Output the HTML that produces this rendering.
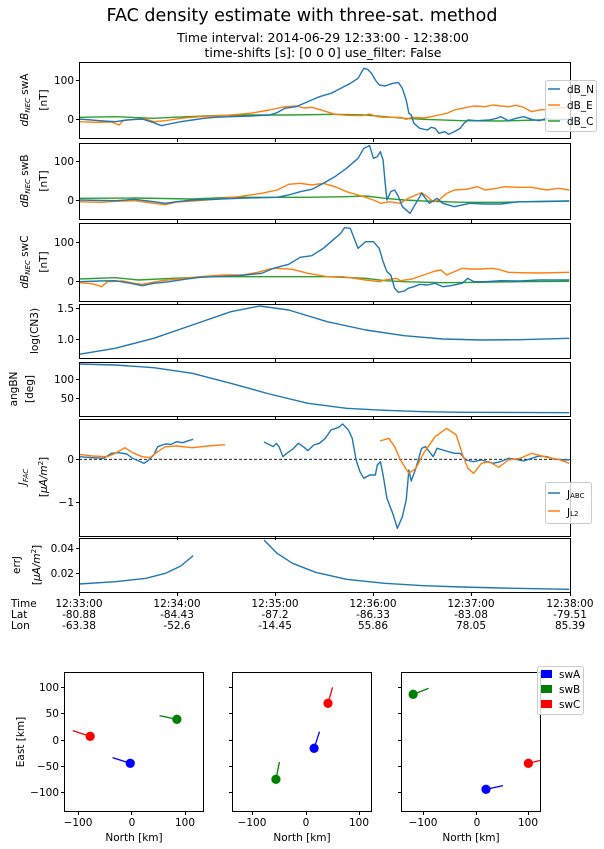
<!DOCTYPE html>
<html><head><meta charset="utf-8"><style>
body{margin:0;background:#fff}
svg{display:block;font-family:"DejaVu Sans","Liberation Sans",sans-serif}
.t{font-size:10.5px;fill:#000}
.ln{fill:none;stroke-width:1.4;vector-effect:non-scaling-stroke;stroke-linejoin:round}
.b{stroke:#1f77b4}.o{stroke:#ff7f0e}.g{stroke:#2ca02c}
.ax{fill:none;stroke:#000;stroke-width:1}
</style></head><body>
<svg width="604" height="849" viewBox="0 0 604 849" xmlns="http://www.w3.org/2000/svg">
<text x="302" y="21" text-anchor="middle" font-size="17.5">FAC density estimate with three-sat. method</text>
<text x="323" y="42" text-anchor="middle" font-size="12.5">Time interval: 2014-06-29  12:33:00 - 12:38:00</text>
<text x="323" y="57" text-anchor="middle" font-size="12.5">time-shifts [s]: [0 0 0]   use_filter: False</text>

<!-- panels -->
<g transform="translate(-0.39,0) scale(0.3854,0.33333)">
<polyline class="ln g" points="206,352 300,350 400,355 450,352 550,347 650,345 750,345 870,343 950,345 1000,350 1050,355 1100,358 1200,362 1300,363 1400,360 1478,358"/>
<polyline class="ln o" points="206,365 250,367 290,366 310,375 320,362 350,358 380,357 400,365 430,362 470,355 520,350 560,348 600,345 650,340 700,330 740,320 770,318 790,324 810,322 840,332 870,343 900,346 940,347 960,342 980,350 1000,352 1040,352 1055,358 1070,352 1100,354 1120,350 1140,345 1160,340 1180,330 1200,325 1230,318 1260,320 1280,315 1300,318 1320,320 1340,316 1360,322 1380,335 1400,330 1420,328 1440,325 1478,322"/>
<polyline class="ln b" points="206,357 260,362 300,365 330,360 370,357 400,368 420,377 440,372 470,365 500,360 530,355 560,352 600,350 650,348 700,345 720,338 740,325 770,320 800,305 830,290 860,280 890,262 910,250 930,235 945,205 955,208 965,220 975,240 985,255 1000,258 1020,250 1035,248 1045,265 1055,300 1062,340 1068,345 1075,370 1090,385 1110,390 1120,382 1130,385 1140,400 1155,395 1165,403 1180,395 1195,385 1205,370 1215,360 1240,362 1270,360 1290,355 1300,350 1320,362 1340,355 1360,350 1380,358 1400,362 1420,355 1440,360 1478,357"/>

<polyline class="ln g" points="206,595 350,594 500,597 600,592 700,592 800,592 900,590 950,588 1000,595 1050,600 1100,603 1200,607 1300,607 1400,604 1478,603"/>
<polyline class="ln o" points="206,605 260,607 300,604 350,602 400,610 430,614 460,606 500,603 560,598 620,590 680,580 720,570 750,553 780,550 810,555 840,550 870,560 900,575 930,585 945,590 970,600 990,610 1010,605 1040,610 1060,595 1080,585 1095,578 1110,590 1125,605 1140,600 1160,580 1180,570 1210,568 1240,560 1260,570 1290,565 1310,560 1340,562 1380,562 1420,570 1450,565 1478,570"/>
<polyline class="ln b" points="206,600 300,602 350,598 400,605 430,610 460,605 500,600 560,598 620,595 680,593 720,592 750,585 780,575 810,568 840,550 870,530 900,505 930,475 945,445 960,437 970,475 980,470 988,455 995,480 1000,545 1005,600 1015,575 1025,570 1035,590 1045,620 1065,640 1080,610 1095,580 1105,595 1115,610 1135,595 1150,610 1180,620 1220,610 1260,612 1300,612 1350,605 1400,605 1478,603"/>
</g>

<g transform="translate(-0.39,215) scale(0.3854,0.33333)">
<polyline class="ln g" points="206,192 300,188 360,195 450,190 550,185 650,185 750,185 850,185 950,190 1000,197 1050,200 1150,203 1250,202 1350,200 1478,199"/>
<polyline class="ln o" points="206,203 240,206 265,215 280,200 320,198 350,205 370,208 420,197 480,190 520,185 580,180 630,180 670,172 700,162 720,160 760,163 800,175 850,185 890,185 920,190 950,195 985,200 1000,195 1030,190 1040,197 1070,192 1100,180 1130,168 1145,165 1160,180 1180,170 1200,160 1220,162 1250,162 1280,160 1300,165 1320,172 1350,173 1400,174 1478,172"/>
<polyline class="ln b" points="206,200 260,198 300,197 340,205 370,212 400,205 440,200 480,193 520,187 560,185 620,182 680,175 710,160 750,148 780,127 810,122 840,100 870,70 885,55 895,38 910,40 920,70 930,100 940,90 950,80 970,80 985,100 995,140 1005,170 1015,180 1025,220 1035,232 1050,228 1060,220 1075,215 1090,208 1110,210 1130,205 1150,215 1170,212 1200,205 1215,190 1230,200 1260,200 1300,197 1350,198 1400,195 1478,195"/>
<polyline class="ln b" points="206,418 300,400 400,370 500,330 600,290 675,273 750,285 850,320 950,345 1050,362 1150,372 1250,375 1350,374 1478,370"/>
<polyline class="ln b" points="206,447 300,450 400,458 500,475 600,505 700,537 800,565 900,580 1000,586 1100,590 1200,592 1478,593"/>
</g>

<g transform="translate(-0.39,410) scale(0.3854,0.33333)">
<line x1="206" y1="148" x2="1480" y2="148" stroke="#000" stroke-width="0.8" stroke-dasharray="3,2" vector-effect="non-scaling-stroke"/>
<polyline class="ln b" points="206,140 240,143 270,145 290,130 310,128 330,132 345,145 365,155 375,160 385,152 400,135 410,110 430,102 445,103 460,95 475,98 490,92 502,88"/>
<polyline class="ln b" points="686,96 700,104 710,110 718,100 725,110 735,140 745,130 760,118 775,100 790,112 800,122 815,105 830,100 845,85 860,60 880,52 890,42 905,60 915,85 925,150 935,185 945,205 960,195 975,195 980,165 988,155 995,195 1005,265 1020,310 1032,355 1045,320 1055,270 1062,180 1068,213 1080,175 1095,115 1105,110 1115,125 1125,140 1135,115 1150,120 1165,125 1180,130 1195,130 1210,150 1230,155 1250,150 1280,160 1300,155 1320,145 1340,148 1360,153 1380,145 1400,138 1420,140 1440,148 1478,150"/>
<polyline class="ln o" points="206,133 240,138 280,140 300,130 325,113 345,128 370,140 390,143 410,125 430,110 460,108 500,113 540,108 585,104"/>
<polyline class="ln o" points="987,93 1010,85 1025,110 1040,150 1062,190 1080,175 1100,130 1130,80 1160,55 1185,75 1200,130 1215,175 1230,190 1250,160 1270,155 1295,172 1320,150 1350,145 1380,130 1420,142 1450,148 1478,160"/>
<polyline class="ln b" points="206,522 300,515 380,505 430,490 470,468 502,437"/>
<polyline class="ln b" points="686,390 720,430 760,460 820,487 900,508 1000,520 1100,527 1200,531 1300,534 1478,538"/>
</g>

<!-- axes frames -->
<rect class="ax" x="79.5" y="62.5" width="491" height="76"/>
<rect class="ax" x="79.5" y="143.5" width="491" height="76"/>
<rect class="ax" x="79.5" y="223.5" width="491" height="78"/>
<rect class="ax" x="79.5" y="304.5" width="491" height="54"/>
<rect class="ax" x="79.5" y="362.5" width="491" height="54"/>
<rect class="ax" x="79.5" y="419.5" width="491" height="117"/>
<rect class="ax" x="79.5" y="538.5" width="491" height="54"/>
<g stroke="#000" stroke-width="1">
<path d="M177.5,138v4M275.5,138v4M373.5,138v4M471.5,138v4M177.5,219v4M275.5,219v4M373.5,219v4M471.5,219v4M177.5,301v4M275.5,301v4M373.5,301v4M471.5,301v4M177.5,358v4M275.5,358v4M373.5,358v4M471.5,358v4M177.5,416v4M275.5,416v4M373.5,416v4M471.5,416v4M177.5,536v4M275.5,536v4M373.5,536v4M471.5,536v4M79.5,592v4M177.5,592v4M275.5,592v4M373.5,592v4M471.5,592v4M570.5,592v4"/>
<path d="M76,119.5h4M76,80.5h4M76,200.5h4M76,161.5h4M76,281.5h4M76,242.5h4M76,308.5h4M76,339.5h4M76,379.5h4M76,398.5h4M76,459.5h4M76,502.5h4M76,548.5h4M76,573.5h4"/>
</g>
<g class="t" text-anchor="end">
<text x="74" y="123">0</text><text x="74" y="84">100</text>
<text x="74" y="204">0</text><text x="74" y="165">100</text>
<text x="74" y="285">0</text><text x="74" y="246">100</text>
<text x="74" y="312">1.5</text><text x="74" y="343">1.0</text>
<text x="74" y="383">100</text><text x="74" y="402">50</text>
<text x="74" y="463">0</text><text x="74" y="506">−1</text>
<text x="74" y="552">0.04</text><text x="74" y="577">0.02</text>
</g>
<!-- y labels -->
<g class="t" text-anchor="middle">
<text transform="translate(28,100) rotate(-90)"><tspan font-style="italic">dB</tspan><tspan font-style="italic" font-size="7" dy="2">NEC</tspan><tspan dy="-2"> swA</tspan></text>
<text transform="translate(47,100) rotate(-90)">[nT]</text>
<text transform="translate(28,181) rotate(-90)"><tspan font-style="italic">dB</tspan><tspan font-style="italic" font-size="7" dy="2">NEC</tspan><tspan dy="-2"> swB</tspan></text>
<text transform="translate(47,181) rotate(-90)">[nT]</text>
<text transform="translate(28,262) rotate(-90)"><tspan font-style="italic">dB</tspan><tspan font-style="italic" font-size="7" dy="2">NEC</tspan><tspan dy="-2"> swC</tspan></text>
<text transform="translate(47,262) rotate(-90)">[nT]</text>
<text transform="translate(38,331) rotate(-90)">log(CN3)</text>
<text transform="translate(17,389) rotate(-90)">angBN</text>
<text transform="translate(33,389) rotate(-90)">[deg]</text>
<text transform="translate(26,477) rotate(-90)"><tspan font-style="italic">J</tspan><tspan font-style="italic" font-size="7" dy="2">FAC</tspan></text>
<text transform="translate(47,477) rotate(-90)">[<tspan font-style="italic">μA/m</tspan><tspan font-size="7" dy="-4">2</tspan><tspan dy="4">]</tspan></text>
<text transform="translate(20,565) rotate(-90)">errJ</text>
<text transform="translate(40,565) rotate(-90)">[<tspan font-style="italic">μA/m</tspan><tspan font-size="7" dy="-4">2</tspan><tspan dy="4">]</tspan></text>
</g>
<!-- time rows -->
<g class="t">
<text x="11" y="607">Time</text><text x="11" y="618">Lat</text><text x="11" y="629">Lon</text>
</g>
<g class="t" text-anchor="middle">
<text x="79" y="607">12:33:00</text><text x="79" y="618">-80.88</text><text x="79" y="629">-63.38</text>
<text x="177" y="607">12:34:00</text><text x="177" y="618">-84.43</text><text x="177" y="629">-52.6</text>
<text x="275" y="607">12:35:00</text><text x="275" y="618">-87.2</text><text x="275" y="629">-14.45</text>
<text x="373" y="607">12:36:00</text><text x="373" y="618">-86.33</text><text x="373" y="629">55.86</text>
<text x="471" y="607">12:37:00</text><text x="471" y="618">-83.08</text><text x="471" y="629">78.05</text>
<text x="570" y="607">12:38:00</text><text x="570" y="618">-79.51</text><text x="570" y="629">85.39</text>
</g>
<!-- legend 1 -->
<rect x="545.5" y="80.5" width="51" height="51" rx="2" fill="#fff" fill-opacity="0.8" stroke="#ccc"/>
<path d="M548,89h12" stroke="#1f77b4" stroke-width="1.5"/><path d="M548,105h12" stroke="#ff7f0e" stroke-width="1.5"/><path d="M548,121h12" stroke="#2ca02c" stroke-width="1.5"/>
<g class="t"><text x="567" y="93">dB_N</text><text x="567" y="109">dB_E</text><text x="567" y="125">dB_C</text></g>
<!-- legend 6 -->
<rect x="545.5" y="482.5" width="46" height="41" rx="2" fill="#fff" fill-opacity="0.8" stroke="#ccc"/>
<path d="M548,493h12" stroke="#1f77b4" stroke-width="1.5"/><path d="M548,511h12" stroke="#ff7f0e" stroke-width="1.5"/>
<g class="t"><text x="567" y="498">J<tspan font-size="7">ABC</tspan></text><text x="567" y="516">J<tspan font-size="7">L2</tspan></text></g>

<!-- scatter panels -->
<rect class="ax" x="64.5" y="672.5" width="139" height="139"/>
<rect class="ax" x="232.5" y="672.5" width="139" height="139"/>
<rect class="ax" x="401.5" y="672.5" width="139" height="139"/>
<g stroke="#000" stroke-width="1">
<path d="M61,687.5h4M61,713.5h4M61,740.5h4M61,766.5h4M61,792.5h4"/>
<path d="M229,687.5h4M229,713.5h4M229,740.5h4M229,766.5h4M229,792.5h4"/>
<path d="M398,687.5h4M398,713.5h4M398,740.5h4M398,766.5h4M398,792.5h4"/>
<path d="M78.5,811v4M131.5,811v4M185.5,811v4M252.5,811v4M306.5,811v4M359.5,811v4M423.5,811v4M476.5,811v4M528.5,811v4"/>
</g>
<g class="t" text-anchor="end">
<text x="59" y="691">100</text><text x="59" y="717">50</text><text x="59" y="744">0</text><text x="59" y="770">−50</text><text x="59" y="796">−100</text>
</g>
<g class="t" text-anchor="middle">
<text x="78" y="826">−100</text><text x="132" y="826">0</text><text x="185" y="826">100</text>
<text x="252" y="826">−100</text><text x="306" y="826">0</text><text x="359" y="826">100</text>
<text x="423" y="826">−100</text><text x="477" y="826">0</text><text x="528" y="826">100</text>
<text x="134" y="841">North [km]</text><text x="302" y="841">North [km]</text><text x="471" y="841">North [km]</text>
<text transform="translate(24,742) rotate(-90)">East [km]</text>
</g>
<g transform="translate(-0.39,660) scale(0.3854,0.33333)" stroke-width="1.3">
<line x1="235" y1="229" x2="190" y2="212" stroke="red" vector-effect="non-scaling-stroke"/><ellipse cx="235" cy="229" rx="12" ry="14" fill="red"/>
<line x1="460" y1="178" x2="415" y2="167" stroke="green" vector-effect="non-scaling-stroke"/><ellipse cx="460" cy="178" rx="12" ry="14" fill="green"/>
<line x1="339" y1="310" x2="293" y2="293" stroke="blue" vector-effect="non-scaling-stroke"/><ellipse cx="339" cy="310" rx="12" ry="14" fill="blue"/>
<line x1="852" y1="130" x2="864" y2="82" stroke="red" vector-effect="non-scaling-stroke"/><ellipse cx="852" cy="130" rx="12" ry="14" fill="red"/>
<line x1="816" y1="265" x2="830" y2="215" stroke="blue" vector-effect="non-scaling-stroke"/><ellipse cx="816" cy="265" rx="12" ry="14" fill="blue"/>
<line x1="717" y1="358" x2="726" y2="306" stroke="green" vector-effect="non-scaling-stroke"/><ellipse cx="717" cy="358" rx="12" ry="14" fill="green"/>
<line x1="1073" y1="103" x2="1113" y2="85" stroke="green" vector-effect="non-scaling-stroke"/><ellipse cx="1073" cy="103" rx="12" ry="14" fill="green"/>
<line x1="1262" y1="388" x2="1306" y2="377" stroke="blue" vector-effect="non-scaling-stroke"/><ellipse cx="1262" cy="388" rx="12" ry="14" fill="blue"/>
<line x1="1372" y1="310" x2="1403" y2="301" stroke="red" vector-effect="non-scaling-stroke"/><ellipse cx="1372" cy="310" rx="12" ry="14" fill="red"/>
</g>
<!-- scatter legend -->
<rect x="537.5" y="666.5" width="46" height="48" rx="2" fill="#fff" fill-opacity="0.8" stroke="#ccc"/>
<rect x="541" y="670" width="11" height="8" fill="blue"/><rect x="541" y="685" width="11" height="8" fill="green"/><rect x="541" y="700" width="11" height="8" fill="red"/>
<g class="t"><text x="559" y="678">swA</text><text x="559" y="693">swB</text><text x="559" y="708">swC</text></g>
</svg>
</body></html>
